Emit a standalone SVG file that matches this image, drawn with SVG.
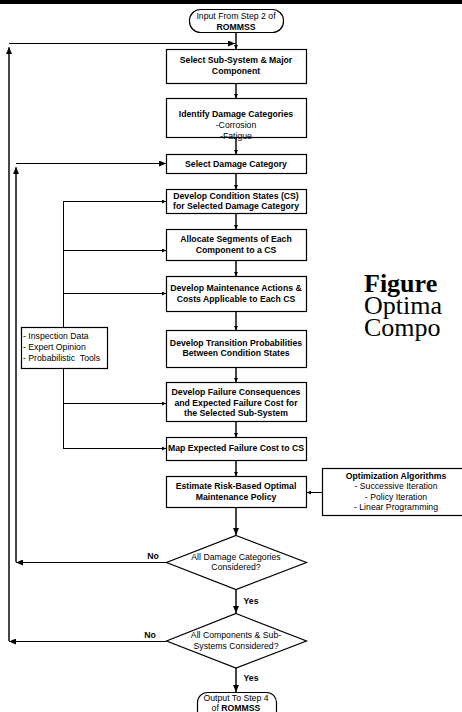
<svg xmlns="http://www.w3.org/2000/svg" width="462" height="712" viewBox="0 0 462 712">
<style>
text{font-family:"Liberation Sans",Arial,sans-serif;font-size:8.7px;fill:#000;text-anchor:middle}
.b{font-weight:bold}
.l{text-anchor:start;white-space:pre}
.fig{font-family:"Liberation Serif","Times New Roman",serif;font-size:26px;text-anchor:start}
.box{fill:#fff;stroke:#000;stroke-width:1.2}
.c{fill:none;stroke:#000;stroke-width:1}
.g{fill:none;stroke:#666;stroke-width:1.5}
</style>
<defs>
<marker id="s" viewBox="0 0 4 4" refX="4" refY="2" markerWidth="4" markerHeight="4" markerUnits="userSpaceOnUse" orient="auto"><path d="M0,0L4,2L0,4z" fill="#000"/></marker>
<marker id="L" viewBox="0 0 7 6" refX="7" refY="3" markerWidth="7" markerHeight="6" markerUnits="userSpaceOnUse" orient="auto"><path d="M0,0L7,3L0,6z" fill="#000"/></marker>
</defs>
<rect x="0" y="0" width="462" height="4" fill="#000"/>
<g id="caption">
<text class="fig b" x="364" y="292">Figure</text>
<text class="fig" x="364" y="314">Optima</text>
<text class="fig" x="364" y="336">Compo</text>
</g>
<g id="connectors">
<path class="g" d="M236,32V49"/>
<path class="c" d="M236,32V49" marker-end="url(#s)"/>
<path class="g" d="M9,641V48"/>
<path class="c" d="M9,641V47" marker-end="url(#L)"/>
<path class="c" d="M9,43.5H235" marker-end="url(#L)"/>
<path class="g" d="M236,83V98"/>
<path class="c" d="M236,83V98" marker-end="url(#s)"/>
<path class="g" d="M236,138V154"/>
<path class="c" d="M236,138V154" marker-end="url(#s)"/>
<path class="g" d="M16,562V168"/>
<path class="c" d="M16,562V167" marker-end="url(#L)"/>
<path class="c" d="M16,163.5H166" marker-end="url(#L)"/>
<path class="g" d="M236,173V189"/>
<path class="c" d="M236,173V189" marker-end="url(#s)"/>
<path class="g" d="M236,213V229"/>
<path class="c" d="M236,213V229" marker-end="url(#s)"/>
<path class="g" d="M236,260V276"/>
<path class="c" d="M236,260V276" marker-end="url(#s)"/>
<path class="g" d="M236,311V330"/>
<path class="c" d="M236,311V330" marker-end="url(#s)"/>
<path class="g" d="M236,367V382"/>
<path class="c" d="M236,367V382" marker-end="url(#s)"/>
<path class="g" d="M236,421V437"/>
<path class="c" d="M236,421V437" marker-end="url(#s)"/>
<path class="g" d="M236,460V476"/>
<path class="c" d="M236,460V476" marker-end="url(#s)"/>
<path class="g" d="M236,507V535"/>
<path class="c" d="M236,507V535" marker-end="url(#L)"/>
<path class="g" d="M236,590V613"/>
<path class="c" d="M236,590V613" marker-end="url(#L)"/>
<path class="g" d="M236,668V692"/>
<path class="c" d="M236,668V692" marker-end="url(#L)"/>
<path class="c" d="M166,562.5H16" marker-end="url(#L)"/>
<path class="c" d="M166,641.5H9" marker-end="url(#L)"/>
<path class="c" d="M322,492.5H307" marker-end="url(#s)"/>
<path class="c" d="M63.5,201V327M63.5,368V448"/>
<path class="c" d="M63,201.5H166" marker-end="url(#s)"/>
<path class="c" d="M63,250.5H166" marker-end="url(#s)"/>
<path class="c" d="M63,293.5H166" marker-end="url(#s)"/>
<path class="c" d="M63,403.5H166" marker-end="url(#s)"/>
<path class="c" d="M63,448.5H166" marker-end="url(#s)"/>
<text class="b" x="153" y="559">No</text>
<text class="b" x="150" y="638">No</text>
<text class="b" x="251" y="604">Yes</text>
<text class="b" x="251" y="681">Yes</text>
</g>
<g id="start">
<rect class="box" x="189.5" y="9.5" width="94" height="23" rx="11" ry="11"/>
<text x="236" y="19">Input From Step 2 of</text>
<text class="b" x="236" y="30">ROMMSS</text>
</g>
<g id="n1">
<rect class="box" x="166.5" y="49.5" width="140" height="34"/>
<text class="b" x="236" y="63">Select Sub-System &amp; Major</text>
<text class="b" x="236" y="74">Component</text>
</g>
<g id="n2">
<rect class="box" x="166.5" y="98.5" width="140" height="39"/>
<text class="b" x="236" y="117">Identify Damage Categories</text>
<text x="236" y="128">-Corrosion</text>
<text x="236" y="138.5">-Fatigue</text>
</g>
<g id="n3">
<rect class="box" x="166.5" y="154.5" width="140" height="19"/>
<text class="b" x="236" y="167">Select Damage Category</text>
</g>
<g id="n4">
<rect class="box" x="166.5" y="189.5" width="140" height="24"/>
<text class="b" x="236" y="199">Develop Condition States (CS)</text>
<text class="b" x="236" y="209">for Selected Damage Category</text>
</g>
<g id="n5">
<rect class="box" x="166.5" y="229.5" width="140" height="31"/>
<text class="b" x="236" y="242">Allocate Segments of Each</text>
<text class="b" x="236" y="253">Component to a CS</text>
</g>
<g id="n6">
<rect class="box" x="166.5" y="276.5" width="140" height="35"/>
<text class="b" x="236" y="291">Develop Maintenance Actions &amp;</text>
<text class="b" x="236" y="302">Costs Applicable to Each CS</text>
</g>
<g id="n7">
<rect class="box" x="166.5" y="330.5" width="140" height="37"/>
<text class="b" x="236" y="346">Develop Transition Probabilities</text>
<text class="b" x="236" y="356">Between Condition States</text>
</g>
<g id="n8">
<rect class="box" x="166.5" y="382.5" width="140" height="39"/>
<text class="b" x="236" y="395">Develop Failure Consequences</text>
<text class="b" x="236" y="406">and Expected Failure Cost for</text>
<text class="b" x="236" y="416">the Selected Sub-System</text>
</g>
<g id="n9">
<rect class="box" x="166.5" y="437.5" width="140" height="23"/>
<text class="b" x="236" y="451">Map Expected Failure Cost to CS</text>
</g>
<g id="n10">
<rect class="box" x="166.5" y="476.5" width="140" height="31"/>
<text class="b" x="236" y="489">Estimate Risk-Based Optimal</text>
<text class="b" x="236" y="500">Maintenance Policy</text>
</g>
<g id="opt">
<rect class="box" x="322.5" y="468.5" width="150" height="47"/>
<text class="b" x="396" y="479">Optimization Algorithms</text>
<text x="396" y="489">- Successive Iteration</text>
<text x="396" y="500">- Policy Iteration</text>
<text x="396" y="510">- Linear Programming</text>
</g>
<g id="inputs">
<rect class="box" x="21.5" y="327.5" width="86" height="41"/>
<text class="l" x="23" y="339">- Inspection Data</text>
<text class="l" x="23" y="350">- Expert Opinion</text>
<text class="l" x="23" y="361">- Probabilistic  Tools</text>
</g>
<g id="d1">
<path class="box" d="M236,535.5L306.5,562.5L236,589.5L166.5,562.5Z"/>
<text x="236" y="560">All Damage Categories</text>
<text x="236" y="570">Considered?</text>
</g>
<g id="d2">
<path class="box" d="M236,613.5L306.5,641L236,668L166.5,641Z"/>
<text x="236" y="638">All Components &amp; Sub-</text>
<text x="236" y="649">Systems Considered?</text>
</g>
<g id="end">
<rect class="box" x="197.5" y="692.5" width="79" height="28" rx="10" ry="10"/>
<text x="236" y="701">Output To Step 4</text>
<text x="236" y="711"><tspan>of </tspan><tspan class="b">ROMMSS</tspan></text>
</g>
</svg>
